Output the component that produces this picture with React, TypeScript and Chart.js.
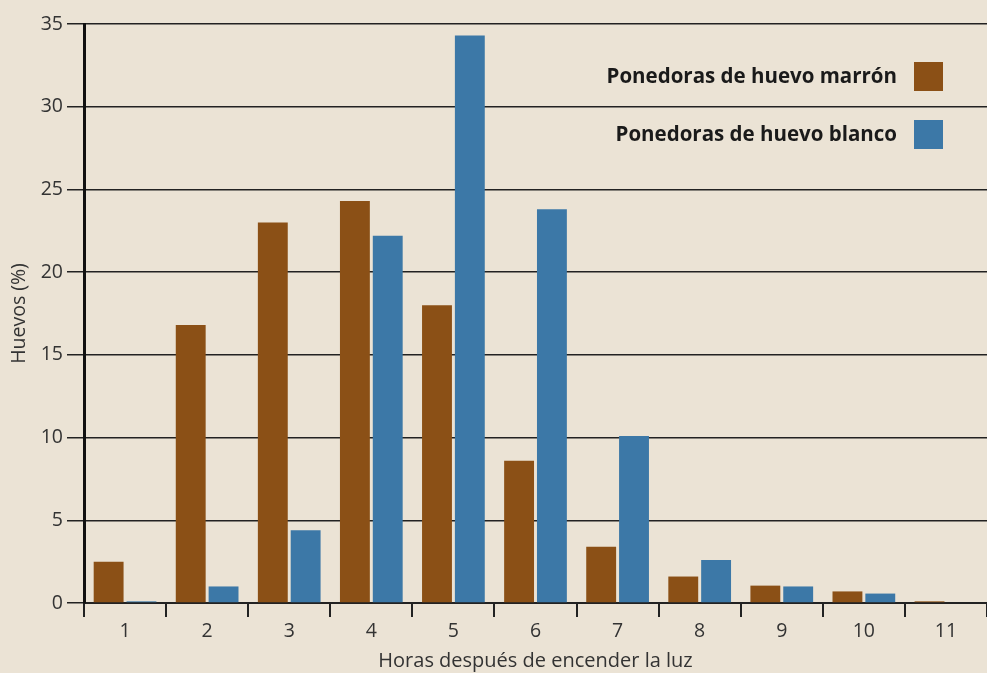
import React, { useEffect, useRef } from "react";
import { Chart, registerables } from "chart.js";

Chart.register(...registerables);

const categories = ["1", "2", "3", "4", "5", "6", "7", "8", "9", "10", "11"];
const brownValues = [2.5, 16.8, 23.0, 24.3, 18.0, 8.6, 3.4, 1.6, 1.05, 0.7, 0.1];
const whiteValues = [0.1, 1.0, 4.4, 22.2, 34.3, 23.8, 10.1, 2.6, 1.0, 0.57, 0];
const seriesNames = ["Ponedoras de huevo marrón", "Ponedoras de huevo blanco"];
const yTitle = "Huevos (%)";
const xTitle = "Horas después de encender la luz";

const BROWN = "#8B5016";
const BLUE = "#3C78A7";
const BG = "#ebe3d5";
const FONT = '"Open Sans", "Noto Sans", sans-serif';

const legendPlugin = {
  id: "customLegend",
  afterDraw(chart: any) {
    const { ctx, chartArea } = chart;
    ctx.save();
    ctx.font = `bold 20.5px ${FONT}`;
    ctx.textAlign = "right";
    ctx.textBaseline = "middle";
    const colors = [BROWN, BLUE];
    const rows = [chartArea.top + 53, chartArea.top + 111];
    seriesNames.forEach((name, i) => {
      ctx.fillStyle = "#1a1a1a";
      ctx.fillText(name, chartArea.right - 90, rows[i]);
      ctx.fillStyle = colors[i];
      ctx.fillRect(chartArea.right - 73, rows[i] - 15, 29, 29);
    });
    ctx.restore();
  },
};

const bgPlugin = {
  id: "bg",
  beforeDraw(chart: any) {
    const { ctx, width, height } = chart;
    ctx.save();
    ctx.fillStyle = BG;
    ctx.fillRect(0, 0, width, height);
    ctx.restore();
  },
};

export default function App() {
  const ref = useRef<HTMLCanvasElement | null>(null);
  useEffect(() => {
    document.body.style.margin = "0";
    document.body.style.background = BG;
    const c = ref.current!;
    const chart = new Chart(c, {
      type: "bar",
      data: {
        labels: categories,
        datasets: [
          { label: seriesNames[0], data: brownValues, backgroundColor: BROWN, barPercentage: 0.91, categoryPercentage: 0.8 },
          { label: seriesNames[1], data: whiteValues, backgroundColor: BLUE, barPercentage: 0.91, categoryPercentage: 0.8 },
        ],
      },
      options: {
        animation: false,
        responsive: false,
        maintainAspectRatio: false,
        layout: { padding: { top: 24, left: 0, right: 0, bottom: 0 } },
        plugins: { legend: { display: false }, tooltip: { enabled: false } },
        scales: {
          x: {
            grid: {
              offset: true,
              drawOnChartArea: false,
              drawTicks: true,
              tickLength: 14,
              color: "#222",
              lineWidth: 2,
            },
            border: { display: true, color: "#222", width: 2 },
            ticks: { color: "#333", font: { family: FONT, size: 19.5 }, padding: 3 },
            title: {
              display: true,
              text: xTitle,
              color: "#333",
              font: { family: FONT, size: 20 },
              padding: { top: 0, bottom: 0 },
            },
            afterFit(scale: any) {
              scale.height = 70;
            },
          },
          y: {
            min: 0,
            max: 35,
            ticks: { stepSize: 5, color: "#333", font: { family: FONT, size: 19.5 }, padding: 4 },
            grid: { color: "#222", lineWidth: 1.5, tickLength: 17, drawTicks: true },
            border: { display: true, color: "#111", width: 3 },
            title: {
              display: true,
              text: yTitle,
              color: "#333",
              font: { family: FONT, size: 19.5 },
              padding: { top: 8, bottom: 0 },
            },
            afterFit(scale: any) {
              scale.width = 84;
            },
          },
        },
      },
      plugins: [bgPlugin, legendPlugin],
    });
    return () => chart.destroy();
  }, []);
  return (
    <div style={{ position: "absolute", left: 0, top: 0, width: 987, height: 673 }}>
      <canvas ref={ref} width={987} height={673} style={{ width: 987, height: 673 }} />
    </div>
  );
}
